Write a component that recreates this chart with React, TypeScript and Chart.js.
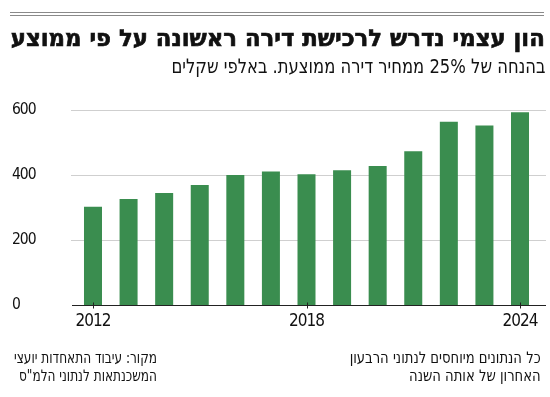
import React, { useEffect, useLayoutEffect, useRef } from "react";
import { Chart, registerables } from "chart.js";

Chart.register(...registerables);

const years = ["2012", "2013", "2014", "2015", "2016", "2017", "2018", "2019", "2020", "2021", "2022", "2023", "2024"];
const equity = [302, 326, 345, 369, 400, 411, 402, 415, 428, 473, 564, 552, 593];
const shownYears = ["2012", "2018", "2024"];
const yTicks = [0, 200, 400, 600];

const TITLE = "הון עצמי נדרש לרכישת דירה ראשונה על פי ממוצע";
const SUBTITLE = "בהנחה של 25% ממחיר דירה ממוצעת. באלפי שקלים";
const NOTE_LINES = ["כל הנתונים מיוחסים לנתוני הרבעון", "האחרון של אותה השנה"];
const SOURCE_LINES = ["מקור: עיבוד התאחדות יועצי", "המשכנתאות לנתוני הלמ\"ס"];

const FONT = '"DejaVu Sans Condensed", "DejaVu Sans", sans-serif';
const GREEN = "#3a8d4f";

const gridPlugin = {
  id: "customGrid",
  beforeDraw(chart: any) {
    chart.ctx.letterSpacing = "-1px";
  },
  beforeDatasetsDraw(chart: any) {
    const { ctx } = chart;
    const y = chart.scales.y;
    ctx.save();
    ctx.strokeStyle = "#cfcfcf";
    ctx.lineWidth = 1;
    yTicks.forEach((v) => {
      if (v === 0) return;
      const py = Math.round(y.getPixelForValue(v)) + 0.5;
      ctx.beginPath();
      ctx.moveTo(71, py);
      ctx.lineTo(546, py);
      ctx.stroke();
    });
    ctx.restore();
  },
  afterDatasetsDraw(chart: any) {
    const { ctx } = chart;
    const y = chart.scales.y;
    const x = chart.scales.x;
    ctx.save();
    ctx.strokeStyle = "#222";
    ctx.lineWidth = 1;
    const py = Math.round(y.getPixelForValue(0)) + 0.5;
    ctx.beginPath();
    ctx.moveTo(72, py);
    ctx.lineTo(546, py);
    ctx.stroke();
    years.forEach((yr, i) => {
      if (!shownYears.includes(yr)) return;
      const px = Math.round(x.getPixelForValue(i)) + 0.5;
      ctx.beginPath();
      ctx.moveTo(px, py - 3);
      ctx.lineTo(px, py + 3);
      ctx.stroke();
    });
    ctx.restore();
  },
};

function ChartCanvas() {
  const ref = useRef<HTMLCanvasElement | null>(null);
  useEffect(() => {
    if (!ref.current) return;
    const chart = new Chart(ref.current, {
      type: "bar",
      data: {
        labels: years,
        datasets: [
          {
            data: equity,
            backgroundColor: GREEN,
            borderWidth: 0,
            barPercentage: 0.506,
            categoryPercentage: 1,
          },
        ],
      },
      options: {
        animation: false,
        responsive: false,
        maintainAspectRatio: false,
        layout: { padding: { top: 110, left: 12, right: 12.2, bottom: 62 } },
        plugins: { legend: { display: false }, tooltip: { enabled: false } },
        scales: {
          x: {
            grid: { display: false, drawTicks: false },
            border: { display: false },
            ticks: {
              autoSkip: false,
              maxRotation: 0,
              padding: 6,
              color: "#111",
              font: { family: FONT, size: 17 },
              callback: (_v: any, i: number) => (shownYears.includes(years[i]) ? years[i] : ""),
            },
            afterFit: (s: any) => {
              s.height = 30;
            },
          },
          y: {
            min: 0,
            max: 600,
            grid: { display: false },
            border: { display: false },
            afterBuildTicks: (s: any) => {
              s.ticks = yTicks.map((v) => ({ value: v }));
            },
            ticks: {
              crossAlign: "far",
              color: "#111",
              font: { family: FONT, size: 15.5 },
            },
            afterFit: (s: any) => {
              s.width = 63.2;
            },
          },
        },
      },
      plugins: [gridPlugin],
    });
    return () => chart.destroy();
  }, []);
  return <canvas ref={ref} width={550} height={397} style={{ position: "absolute", left: 0, top: 0, width: 550, height: 397 }} />;
}

// Text block that is horizontally condensed (from its right edge) to a target width
function FitText(props: {
  lines: string[];
  right: number;
  top: number;
  width: number;
  size: number;
  lineHeight: number;
  weight?: number;
  stroke?: number;
}) {
  const ref = useRef<HTMLDivElement | null>(null);
  useLayoutEffect(() => {
    const el = ref.current;
    if (!el) return;
    const first = el.firstElementChild as HTMLElement | null;
    if (!first) return;
    const span = first.firstElementChild as HTMLElement | null;
    const natural = (span || first).getBoundingClientRect().width;
    if (natural > 0) el.style.transform = `scaleX(${props.width / natural})`;
  }, []);
  const style: any = {
    position: "absolute",
    right: props.right,
    top: props.top,
    direction: "rtl",
    textAlign: "right",
    fontFamily: FONT,
    fontSize: props.size,
    fontWeight: props.weight ?? 400,
    lineHeight: `${props.lineHeight}px`,
    color: "#111",
    whiteSpace: "nowrap",
    transformOrigin: "right top",
  };
  if (props.stroke) style.WebkitTextStroke = `${props.stroke}px #111`;
  return (
    <div ref={ref} dir="rtl" style={style}>
      {props.lines.map((l, i) => (
        <div key={i}>
          <span>{l}</span>
        </div>
      ))}
    </div>
  );
}

export default function App() {
  return (
    <div style={{ position: "absolute", left: 0, top: 0, width: 550, height: 397, background: "#fff", overflow: "hidden" }}>
      <ChartCanvas />
      <div style={{ position: "absolute", left: 10, top: 12, width: 534, height: 1, background: "#8a8a8a" }} />
      <div style={{ position: "absolute", left: 10, top: 15, width: 534, height: 1, background: "#8a8a8a" }} />
      <FitText lines={[TITLE]} right={5} top={27} width={534} size={23} lineHeight={23} weight={700} stroke={0.6} />
      <FitText lines={[SUBTITLE]} right={5} top={56} width={374} size={20} lineHeight={20} />
      <FitText lines={NOTE_LINES} right={9} top={349} width={191} size={16} lineHeight={17.5} />
      <FitText lines={SOURCE_LINES} right={393} top={349} width={143} size={16} lineHeight={17.5} />
    </div>
  );
}
